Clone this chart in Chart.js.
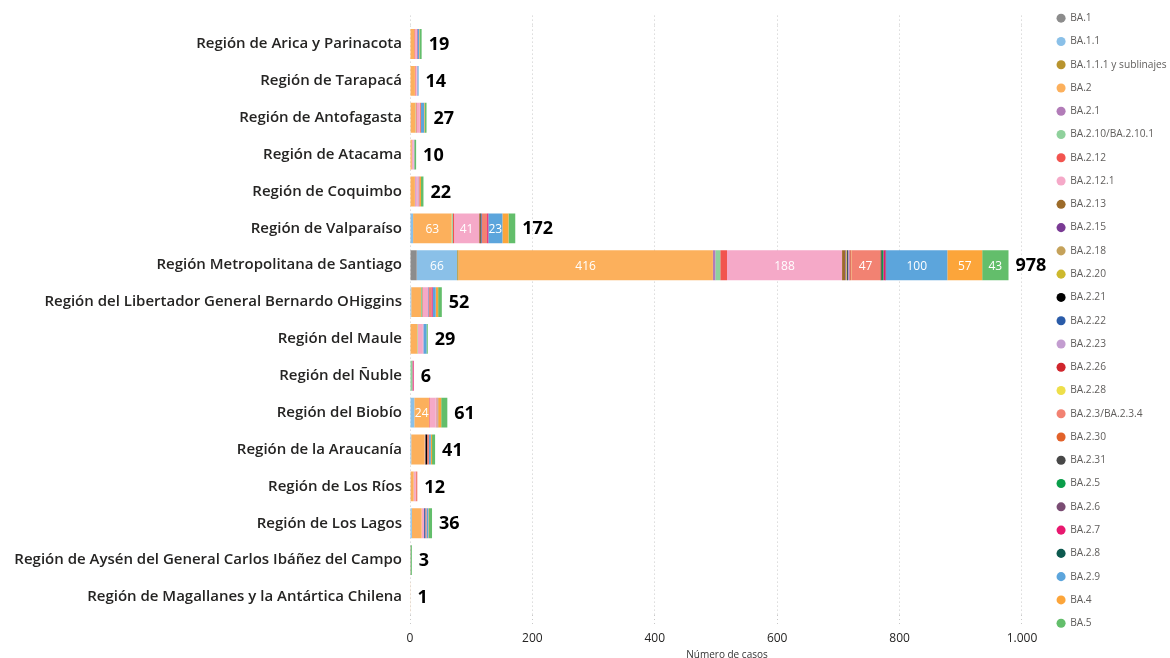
<!DOCTYPE html>
<html>
<head>
<meta charset="utf-8">
<script src="https://cdn.jsdelivr.net/npm/chart.js@4.4.0/dist/chart.umd.min.js"></script>
<style>
html,body{margin:0;padding:0;background:#fff;}
canvas{display:block;}
</style>
</head>
<body>
<canvas id="c" width="1170" height="658"></canvas>
<script>
const regions = [
  "Región de Arica y Parinacota","Región de Tarapacá","Región de Antofagasta","Región de Atacama",
  "Región de Coquimbo","Región de Valparaíso","Región Metropolitana de Santiago",
  "Región del Libertador General Bernardo OHiggins","Región del Maule","Región del Ñuble",
  "Región del Biobío","Región de la Araucanía","Región de Los Ríos","Región de Los Lagos",
  "Región de Aysén del General Carlos Ibáñez del Campo","Región de Magallanes y la Antártica Chilena"
];
const xTicks = [0, 200, 400, 600, 800, 1000];

const BA_1        = [0,0,0,0,0,1,11,0,0,0,0,0,0,0,0,0];
const BA_1_1      = [0,0,1,0,0,4,66,2,0,0,7,2,1,3,0,0];
const BA_1_1_1    = [0,0,0,0,0,0,2,0,1,0,0,0,0,0,0,0];
const BA_2        = [7,8,8,3,8,63,416,16,11,0,24,22,5,16,0,1];
const BA_2_1      = [0,0,0,0,1,0,4,0,0,0,0,0,0,0,0,0];
const BA_2_10     = [0,0,1,0,0,2,8,2,1,4,0,0,0,0,0,0];
const BA_2_12     = [1,1,1,0,0,2,11,1,0,0,1,0,0,0,0,0];
const BA_2_12_1   = [3,2,5,3,3,41,188,9,8,0,10,1,3,4,0,0];
const BA_2_13     = [0,0,0,0,0,2,5,0,0,0,0,0,0,0,0,0];
const BA_2_15     = [0,0,0,0,0,0,1,0,0,0,0,0,0,0,0,0];
const BA_2_18     = [0,0,0,0,0,0,1,0,0,0,0,0,0,0,0,0];
const BA_2_20     = [0,0,0,0,0,0,1,0,0,0,0,0,0,0,0,0];
const BA_2_21     = [0,0,0,0,0,1,1,0,0,0,0,3,0,0,0,0];
const BA_2_22     = [0,0,0,0,0,1,1,1,0,0,0,0,0,2,0,0];
const BA_2_23     = [0,1,0,1,2,0,2,0,1,0,1,0,0,0,0,0];
const BA_2_26     = [0,0,0,0,0,0,2,0,0,0,0,0,0,0,0,0];
const BA_2_28     = [0,0,0,0,0,0,1,0,0,0,0,0,0,0,0,0];
const BA_2_3      = [0,0,2,0,2,9,47,4,0,0,2,3,3,2,0,0];
const BA_2_30     = [0,0,0,0,0,0,1,0,0,0,0,0,0,0,0,0];
const BA_2_31     = [0,0,0,0,0,0,2,0,0,0,0,0,0,0,0,0];
const BA_2_5      = [0,0,0,0,0,0,2,0,0,0,0,0,0,0,0,0];
const BA_2_6      = [0,0,0,0,0,0,1,0,0,0,0,0,0,0,0,0];
const BA_2_7      = [1,0,0,0,0,2,3,2,0,2,0,0,0,0,1,0];
const BA_2_8      = [0,0,0,0,0,0,1,0,0,0,0,0,0,0,0,0];
const BA_2_9      = [3,2,5,0,0,23,100,5,5,0,1,3,0,3,0,0];
const BA_4        = [1,0,1,0,2,10,57,4,0,0,5,2,0,1,0,0];
const BA_5        = [3,0,3,3,4,11,43,6,2,0,10,5,0,5,2,0];

const seriesNames = ["BA.1","BA.1.1","BA.1.1.1 y sublinajes","BA.2","BA.2.1","BA.2.10/BA.2.10.1","BA.2.12","BA.2.12.1",
  "BA.2.13","BA.2.15","BA.2.18","BA.2.20","BA.2.21","BA.2.22","BA.2.23","BA.2.26","BA.2.28","BA.2.3/BA.2.3.4",
  "BA.2.30","BA.2.31","BA.2.5","BA.2.6","BA.2.7","BA.2.8","BA.2.9","BA.4","BA.5"];
const seriesValues = [BA_1,BA_1_1,BA_1_1_1,BA_2,BA_2_1,BA_2_10,BA_2_12,BA_2_12_1,BA_2_13,BA_2_15,BA_2_18,BA_2_20,
  BA_2_21,BA_2_22,BA_2_23,BA_2_26,BA_2_28,BA_2_3,BA_2_30,BA_2_31,BA_2_5,BA_2_6,BA_2_7,BA_2_8,BA_2_9,BA_4,BA_5];
const seriesColors = ["#8C8C8C","#8AC0E8","#B8942E","#FCB05C","#B27CB8","#8FD19C","#F2544F","#F5A9C8",
  "#9C6B2A","#7A3A94","#C5A25A","#CDB92E","#000000","#2A5BA8","#C39DD0","#D0262D","#EEDF4A","#F28272",
  "#E2622A","#484848","#0A9E4A","#7A4C73","#E8186F","#0D5A4F","#5CA5DC","#FCA53A","#63BE6B"];

const FONT = "'Open Sans', 'Noto Sans', sans-serif";
const fmt = v => v >= 1000 ? Math.floor(v/1000) + "." + String(v%1000).padStart(3,"0") : String(v);

const datasets = seriesNames.map((n, i) => ({
  label: n,
  data: seriesValues[i],
  backgroundColor: seriesColors[i],
  borderWidth: 0,
  categoryPercentage: 1,
  barPercentage: 0.81
}));

const labelsPlugin = {
  id: 'labelsPlugin',
  beforeUpdate(chart) {
    if (chart.legend && !chart.legend._patched) {
      const orig = chart.legend.fit;
      chart.legend.fit = function() { orig.call(this); this.width = 126; };
      chart.legend._patched = true;
    }
  },
  afterDatasetsDraw(chart) {
    const ctx = chart.ctx;
    const xs = chart.scales.x, ys = chart.scales.y;
    ctx.save();
    ctx.font = "12px " + FONT;
    ctx.fillStyle = "#ffffff";
    ctx.textAlign = "center";
    ctx.textBaseline = "middle";
    chart.data.datasets.forEach((ds, di) => {
      const meta = chart.getDatasetMeta(di);
      meta.data.forEach((el, i) => {
        const v = ds.data[i];
        if (v >= 23) {
          ctx.fillText(String(v), (el.x + el.base) / 2, el.y + 1);
        }
      });
    });
    ctx.font = "bold 18px " + FONT;
    ctx.fillStyle = "#000000";
    ctx.textAlign = "left";
    regions.forEach((r, i) => {
      let t = 0;
      seriesValues.forEach(s => t += s[i]);
      ctx.fillText(String(t), xs.getPixelForValue(t) + 7, ys.getPixelForValue(i) + 1);
    });
    ctx.restore();
  }
};

new Chart(document.getElementById('c'), {
  type: 'bar',
  data: { labels: regions, datasets },
  options: {
    indexAxis: 'y',
    responsive: false,
    animation: false,
    layout: { padding: 0 },
    scales: {
      x: {
        stacked: true,
        min: 0, max: 1036,
        position: 'bottom',
        afterFit(s) { s.height = 42.6; },
        afterBuildTicks(s) { s.ticks = xTicks.map(v => ({ value: v })); },
        ticks: {
          font: { family: FONT, size: 12 },
          color: "#252423",
          padding: 6,
          maxRotation: 0,
          callback: v => fmt(v)
        },
        grid: {
          color: "#C8C8C8",
          lineWidth: 1,
          tickLength: 10,
          tickColor: "#C8C8C8",
          tickBorderDash: [1, 3],
          drawTicks: true
        },
        border: { display: false, dash: [1, 3] },
        title: {
          display: true,
          text: "Número de casos",
          font: { family: FONT, size: 10 },
          color: "#333333",
          padding: { top: -3, bottom: -3 }
        }
      },
      x2: {
        type: 'linear',
        position: 'top',
        min: 0, max: 1036,
        afterFit(s) { s.height = 25.6; },
        afterBuildTicks(s) { s.ticks = xTicks.map(v => ({ value: v })); },
        ticks: { display: false },
        grid: {
          drawOnChartArea: false,
          tickLength: 10,
          tickColor: "#C8C8C8",
          tickBorderDash: [1, 3]
        },
        border: { display: false }
      },
      y: {
        stacked: true,
        afterFit(s) { s.width = 410; },
        ticks: {
          font: { family: FONT, size: 15, weight: '600' },
          color: "#252423",
          padding: 0,
          autoSkip: false
        },
        grid: { display: false },
        border: { display: false }
      }
    },
    plugins: {
      legend: {
        position: 'right',
        align: 'start',
        labels: {
          usePointStyle: true,
          pointStyle: 'circle',
          boxWidth: 8,
          boxHeight: 6.4,
          padding: 13.07,
          font: { family: FONT, size: 10.2 },
          color: "#605E5C"
        }
      },
      tooltip: { enabled: false }
    }
  },
  plugins: [labelsPlugin]
});
</script>
</body>
</html>
